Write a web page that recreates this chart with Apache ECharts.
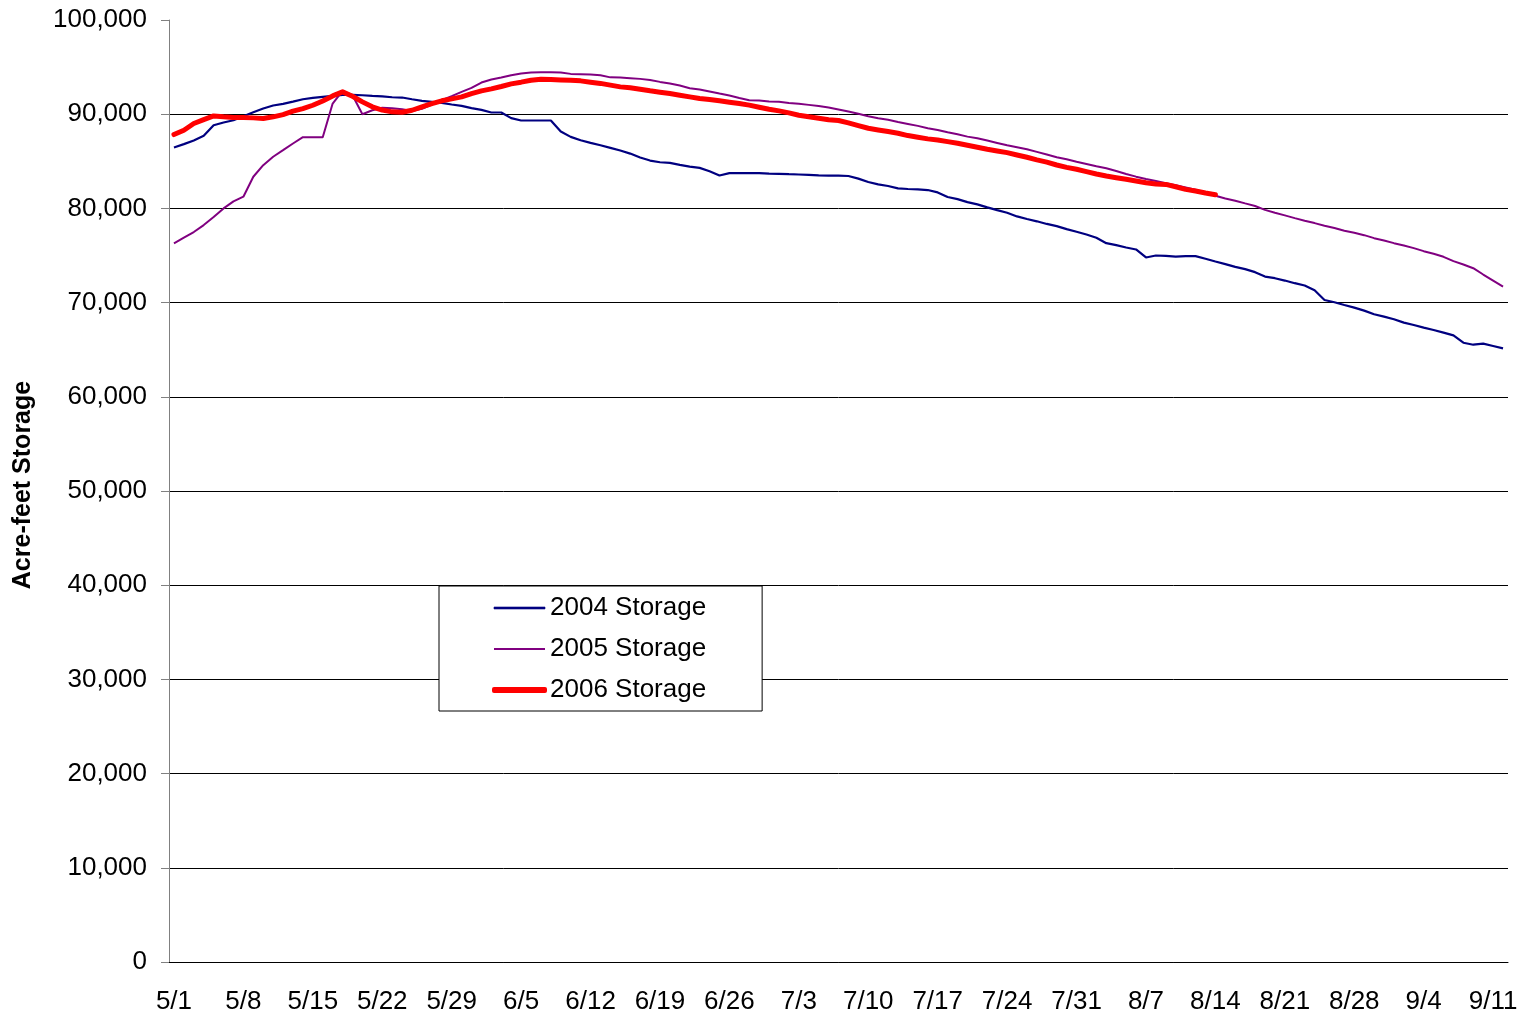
<!DOCTYPE html>
<html>
<head>
<meta charset="utf-8">
<title>Acre-feet Storage</title>
<script src="https://cdn.jsdelivr.net/npm/echarts@6/dist/echarts.min.js"></script>
<style>
  html, body { margin: 0; padding: 0; background: #fff; }
  #chart { width: 1523px; height: 1019px; }
</style>
</head>
<body>
<div id="chart"></div>
<script>
// days shown on the axis: 5/1 .. 9/12
const monthDays = [[5, 31], [6, 30], [7, 31], [8, 31], [9, 12]]
const dates = []
monthDays.forEach(([m, n]) => {
  for (let d = 1; d <= n; d++) dates.push(m + '/' + d)
})

const yTicks = [0, 10000, 20000, 30000, 40000, 50000, 60000, 70000, 80000, 90000, 100000]

const storage2004 = [
  86470, 86820, 87210, 87700, 88830, 89120, 89360, 89790, 90210, 90600,
  90920, 91100, 91340, 91590, 91730, 91840, 91940, 92050, 92050, 92010,
  91940, 91900, 91800, 91770, 91590, 91420, 91310, 91200, 91030, 90880,
  90640, 90460, 90180, 90180, 89580, 89330, 89330, 89330, 89330, 88160,
  87590, 87240, 86960, 86700, 86430, 86140, 85820, 85400, 85080, 84900,
  84830, 84620, 84440, 84300, 83950, 83490, 83740, 83740, 83740, 83740,
  83700, 83670, 83630, 83600, 83560, 83510, 83480, 83480, 83440, 83160,
  82800, 82550, 82380, 82130, 82060, 82020, 81950, 81700, 81210, 80990,
  80670, 80430, 80110, 79820, 79540, 79150, 78870, 78630, 78350, 78120,
  77800, 77520, 77230, 76880, 76310, 76100, 75850, 75640, 74790, 75000,
  74960, 74890, 74930, 74930, 74650, 74360, 74080, 73790, 73550, 73230,
  72760, 72590, 72340, 72060, 71810, 71310, 70280, 70040, 69750, 69470,
  69150, 68760, 68510, 68230, 67870, 67620, 67340, 67090, 66810, 66520,
  65740, 65530, 65640, 65390, 65140
]

const storage2005 = [
  76290, 76890, 77490, 78230, 79080, 80000, 80740, 81240, 83360, 84590,
  85480, 86180, 86890, 87560, 87560, 87560, 91130, 92470, 92010, 90000,
  90420, 90690, 90640, 90530, 90350, 90570, 91030, 91490, 91910, 92370,
  92800, 93360, 93680, 93890, 94140, 94320, 94420, 94460, 94460, 94420,
  94280, 94250, 94210, 94140, 93910, 93890, 93820, 93750, 93640, 93430,
  93260, 93040, 92760, 92620, 92410, 92190, 91980, 91730, 91490, 91450,
  91340, 91310, 91200, 91100, 90990, 90860, 90720, 90500, 90280, 90040,
  89790, 89570, 89400, 89180, 88970, 88760, 88510, 88330, 88090, 87870,
  87620, 87450, 87200, 86950, 86700, 86490, 86280, 86000, 85720, 85430,
  85210, 84960, 84720, 84470, 84260, 83970, 83650, 83370, 83120, 82910,
  82660, 82450, 82230, 81990, 81670, 81350, 81060, 80820, 80530, 80250,
  79840, 79540, 79260, 78970, 78690, 78440, 78160, 77910, 77620, 77410,
  77160, 76840, 76600, 76310, 76060, 75780, 75460, 75180, 74860, 74400,
  74040, 73650, 72980, 72340, 71700
]

// 2006 only runs to 8/14
const storage2006 = [
  87840, 88300, 89010, 89430, 89820, 89720, 89650, 89650, 89610, 89540,
  89720, 89960, 90320, 90600, 90950, 91410, 91940, 92370, 91910, 91310,
  90780, 90440, 90250, 90210, 90420, 90780, 91130, 91420, 91630, 91840,
  92190, 92480, 92690, 92940, 93220, 93400, 93610, 93720, 93680, 93640,
  93610, 93540, 93400, 93270, 93090, 92900, 92800, 92650, 92480, 92340,
  92190, 92020, 91840, 91660, 91560, 91420, 91270, 91130, 90960, 90740,
  90530, 90350, 90140, 89890, 89720, 89580, 89420, 89330, 89080, 88790,
  88510, 88330, 88160, 87980, 87730, 87550, 87380, 87270, 87090, 86910,
  86700, 86490, 86280, 86100, 85920, 85670, 85430, 85150, 84910, 84610,
  84360, 84150, 83900, 83650, 83440, 83260, 83090, 82910, 82730, 82590,
  82550, 82300, 82020, 81840, 81630, 81450
]

const seriesNames = ['2004 Storage', '2005 Storage', '2006 Storage']
const seriesColors = ['#000080', '#800080', '#ff0000']

const font = 'Liberation Sans, Arial, sans-serif'
const chart = echarts.init(document.getElementById('chart'))

// no gridline on the top tick (100,000)
const gridColors = yTicks.map((v, i) => (i === yTicks.length - 1 ? 'rgba(0,0,0,0)' : '#000'))

chart.setOption({
  animation: false,
  grid: {
    left: 169,
    right: 15,
    top: 20,
    bottom: 57,
    containLabel: false,
    outerBoundsMode: 'none'
  },
  legend: {
    orient: 'vertical',
    left: 439,
    top: 586,
    // plain line samples, the 2006 one drawn thicker
    data: [
      { name: seriesNames[0], icon: 'rect', itemStyle: { color: seriesColors[0], borderColor: seriesColors[0], borderWidth: 0.6 } },
      { name: seriesNames[1], icon: 'rect', itemStyle: { color: seriesColors[1], borderWidth: 0 } },
      { name: seriesNames[2], icon: 'rect', itemStyle: { color: seriesColors[2], borderColor: seriesColors[2], borderWidth: 4, borderJoin: 'round' } }
    ],
    backgroundColor: '#fff',
    borderColor: '#000',
    borderWidth: 1,
    borderRadius: 0,
    padding: [9, 56, 8, 53],
    itemGap: 15,
    itemWidth: 51,
    itemHeight: 2,
    textStyle: {
      fontFamily: font,
      fontSize: 26,
      color: '#000'
    }
  },
  xAxis: {
    type: 'category',
    data: dates,
    boundaryGap: true,
    axisLine: { lineStyle: { color: '#000', width: 1 } },
    axisTick: {
      interval: 6,
      length: 7,
      lineStyle: { color: '#808080' }
    },
    axisLabel: {
      interval: 6,
      margin: 27,
      fontFamily: font,
      fontSize: 26,
      color: '#000'
    },
    splitLine: { show: false }
  },
  yAxis: {
    type: 'value',
    min: 0,
    max: 100000,
    interval: 10000,
    name: 'Acre-feet Storage',
    nameLocation: 'middle',
    nameGap: 133,
    nameTextStyle: {
      fontFamily: font,
      fontSize: 25,
      fontWeight: 'bold',
      color: '#000',
      padding: [0, 0, 0, 12]
    },
    axisLine: { show: true, lineStyle: { color: '#808080', width: 1 } },
    axisTick: { show: true, length: 8, lineStyle: { color: '#808080' } },
    axisLabel: {
      margin: 22,
      fontFamily: font,
      fontSize: 26,
      color: '#000',
      formatter: v => v.toLocaleString('en-US')
    },
    splitLine: {
      show: true,
      lineStyle: { color: gridColors, width: 1 }
    }
  },
  series: [
    {
      name: seriesNames[0],
      type: 'line',
      data: storage2004,
      symbol: 'none',
      color: seriesColors[0],
      lineStyle: { color: seriesColors[0], width: 2.2 }
    },
    {
      name: seriesNames[1],
      type: 'line',
      data: storage2005,
      symbol: 'none',
      color: seriesColors[1],
      lineStyle: { color: seriesColors[1], width: 2 }
    },
    {
      name: seriesNames[2],
      type: 'line',
      data: storage2006,
      symbol: 'none',
      color: seriesColors[2],
      lineStyle: { color: seriesColors[2], width: 5, cap: 'round', join: 'round' }
    }
  ]
})
</script>
</body>
</html>
